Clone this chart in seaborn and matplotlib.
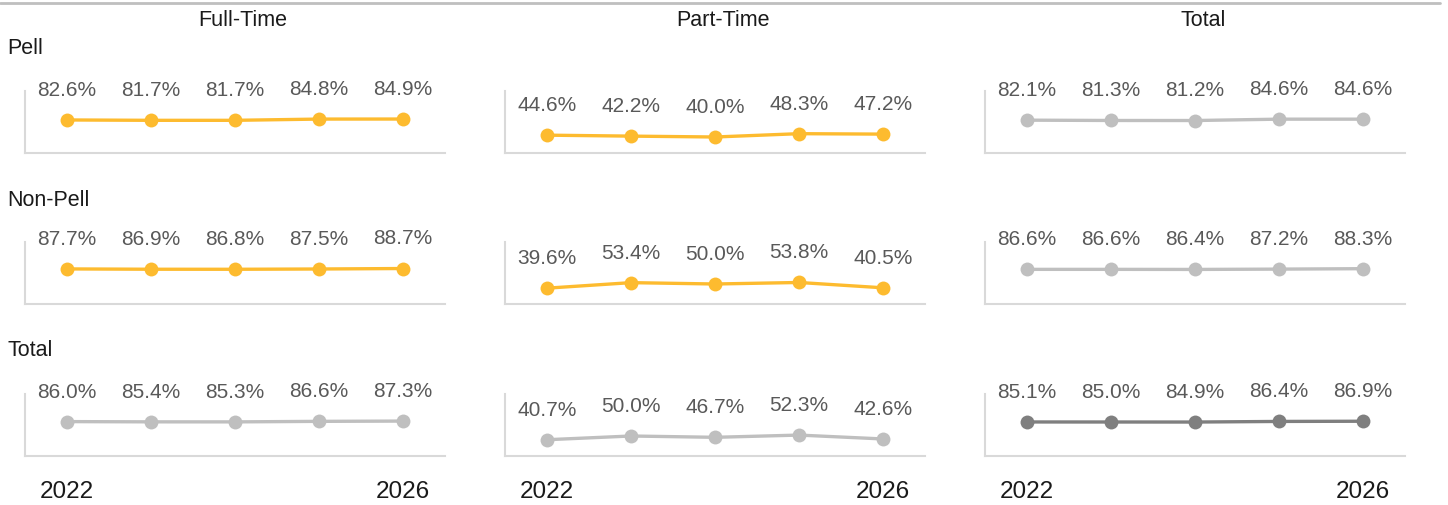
import matplotlib
matplotlib.use("Agg")
import matplotlib.pyplot as plt
import seaborn as sns
import pandas as pd
from matplotlib.lines import Line2D

sns.set_theme(style="white")
plt.rcParams['font.family'] = ['Liberation Sans', 'DejaVu Sans']

years = [2022, 2023, 2024, 2025, 2026]
columns = ["Full-Time", "Part-Time", "Total"]
rows = ["Pell", "Non-Pell", "Total"]

ft_pell = [82.6, 81.7, 81.7, 84.8, 84.9]
pt_pell = [44.6, 42.2, 40.0, 48.3, 47.2]
tot_pell = [82.1, 81.3, 81.2, 84.6, 84.6]
ft_nonpell = [87.7, 86.9, 86.8, 87.5, 88.7]
pt_nonpell = [39.6, 53.4, 50.0, 53.8, 40.5]
tot_nonpell = [86.6, 86.6, 86.4, 87.2, 88.3]
ft_total = [86.0, 85.4, 85.3, 86.6, 87.3]
pt_total = [40.7, 50.0, 46.7, 52.3, 42.6]
tot_total = [85.1, 85.0, 84.9, 86.4, 86.9]

grid = [[ft_pell, pt_pell, tot_pell],
        [ft_nonpell, pt_nonpell, tot_nonpell],
        [ft_total, pt_total, tot_total]]

ORANGE = "#FDBB2F"
LGRAY = "#BFBFBF"
DGRAY = "#7F7F7F"
colors = [[ORANGE, ORANGE, LGRAY],
          [ORANGE, ORANGE, LGRAY],
          [LGRAY, LGRAY, DGRAY]]

W, H = 1448, 506
fig = plt.figure(figsize=(W / 100, H / 100), dpi=100)

col_left = [25, 505, 985]
ax_w = 420
row_top = [92, 243, 395]
ax_h = 62

pos = list(range(len(years)))
for r in range(3):
    for c in range(3):
        left = col_left[c] / W
        bottom = 1 - (row_top[r] + ax_h) / H
        ax = fig.add_axes([left, bottom, ax_w / W, ax_h / H])
        vals = grid[r][c]
        df = pd.DataFrame({"pos": pos, "val": vals})
        sns.lineplot(data=df, x="pos", y="val", ax=ax, color=colors[r][c],
                     linewidth=2.4, marker="o", markersize=10,
                     markeredgewidth=0, markeredgecolor=colors[r][c])
        for p, v in zip(pos, vals):
            ax.annotate(f"{v:.1f}%", xy=(p, v), xytext=(0, 22),
                        textcoords="offset points", ha="center", va="center",
                        fontsize=15, color="#595959")
        ax.set_xlim(-0.5, 4.5)
        ax.set_ylim(0, 155)
        ax.set_xlabel("")
        ax.set_ylabel("")
        ax.set_yticks([])
        for s in ["top", "right"]:
            ax.spines[s].set_visible(False)
        for s in ["left", "bottom"]:
            ax.spines[s].set_color("#D9D9D9")
            ax.spines[s].set_linewidth(1.5)
        if r == 2:
            ax.set_xticks([0, 4])
            ax.set_xticklabels([str(years[0]), str(years[-1])])
            ax.tick_params(axis="x", length=0, pad=17, labelsize=17.5,
                           labelcolor="#1a1a1a")
        else:
            ax.set_xticks([])
        ax.patch.set_alpha(0)

# column titles
for c, name in enumerate(columns):
    fig.text((col_left[c] + ax_w / 2 + 8) / W, 1 - 20 / H, name,
             ha="center", va="center", fontsize=15.5, color="#1a1a1a")

# row labels
row_label_y = [49, 201, 351]
for r, name in enumerate(rows):
    fig.text(7 / W, 1 - row_label_y[r] / H, name, ha="left", va="center",
             fontsize=15.5, color="#1a1a1a")

# top rule
fig.add_artist(Line2D([0, 1440 / W], [1 - 4 / H, 1 - 4 / H],
                      transform=fig.transFigure, color="#BFBFBF", linewidth=2))

fig.savefig("out.png", dpi=100)
